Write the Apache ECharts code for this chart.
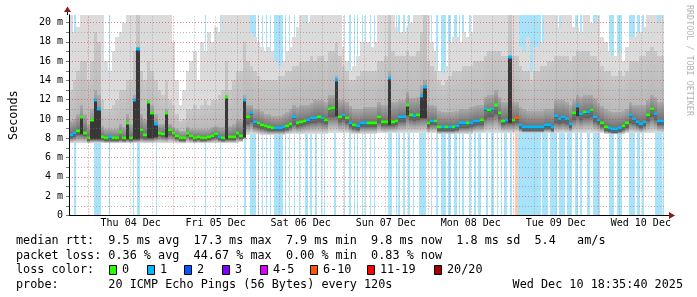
<!DOCTYPE html>
<html><head><meta charset="utf-8">
<script src="https://cdn.jsdelivr.net/npm/echarts@6/dist/echarts.min.js"></script>
<style>html,body{margin:0;padding:0;background:#fff}#c{width:697px;height:297px}</style>
</head><body><div id="c"></div>
<script>
// hours since Wed 03 Dec 00:00; window starts Wed 03 Dec 18:36
const startHour = 18.6;
const endHour = 186.6;
const dayLabels = ['Thu 04 Dec','Fri 05 Dec','Sat 06 Dec','Sun 07 Dec','Mon 08 Dec','Tue 09 Dec','Wed 10 Dec'];
const dayNoons = [36, 60, 84, 108, 132, 156, 180];
const midnights = [24, 48, 72, 96, 120, 144, 168];
const sixHourLines = [30,36,42,54,60,66,78,84,90,102,108,114,126,132,138,150,156,162,174,180,186];

// hourly median rtt (ms)
const med = [
 8.3,8.5,8.8,10.2,8.6, 8.0,9.9,12.0,11.0,8.1, 8.0,8.1,8.0,8.0,8.7, 8.0,9.6,8.0,12.0,17.3,
 8.9,8.3,11.8,10.6,9.5, 8.6,8.4,10.6,8.9,8.6, 8.2,8.0,8.0,8.6,8.2, 8.0,8.1,8.0,8.0,8.1,
 8.2,8.4,8.1,8.0,12.3, 8.1,8.1,8.6,8.2,12.0, 10.2,10.6,9.7,9.6,9.4, 9.3,9.2,9.1,9.1,9.1,
 9.15,9.3,9.5,10.2,9.6, 9.7,9.8,9.9,10.1,10.1, 10.2,10.1,9.9,11.0,11.1, 14.0,10.2,10.4,10.1,9.6,
 9.4,9.3,9.6,9.6,9.6, 9.6,9.55,10.2,9.7,9.7, 14.3,9.7,9.8,10.2,10.2, 11.5,10.4,10.3,10.4,12.4,
 13.3,9.6,9.8,9.8,9.2, 9.15,9.15,9.2,9.2,9.3, 9.55,9.55,9.55,9.6,9.8, 9.8,9.9,11.0,10.9,11.0,
 11.5,10.6,9.8,9.9,16.4, 9.9,10.1,9.4,9.2,9.15, 9.15,9.15,9.2,9.2,9.4, 9.35,9.2,10.3,10.0,10.2,
 10.0,9.5,10.6,11.3,10.5, 10.7,10.7,10.9,10.2,9.9, 9.55,9.2,9.1,9.0,9.0, 9.05,9.3,9.55,10.4,9.95,
 9.7,9.5,9.65,10.4,11.0, 10.5,9.8,9.8
];
// lowest ping of each hour (ms)
const smokeLo = [
 7.55,7.55,7.55,7.55,7.55, 7.55,7.55,7.55,7.55,7.55, 7.55,7.55,7.55,7.55,7.55, 7.55,7.55,7.55,7.55,7.55,
 7.55,7.55,7.55,7.55,7.55, 7.55,7.55,7.55,7.55,7.55, 7.55,7.55,7.55,7.55,7.55, 7.55,7.55,7.55,7.55,7.55,
 7.55,7.55,7.55,7.55,7.55, 7.55,7.55,7.55,7.6,7.9, 8.3,8.4,8.4,8.4,8.35, 8.35,8.35,8.35,8.35,8.35,
 8.35,8.4,8.4,8.4,8.4, 8.45,8.45,8.45,8.45,8.45, 8.45,8.45,8.45,8.5,8.5, 8.5,8.5,8.5,8.5,8.45,
 8.45,8.45,8.45,8.45,8.45, 8.45,8.45,8.5,8.5,8.5, 8.5,8.5,8.5,8.5,8.5, 8.5,8.5,8.5,8.5,8.5,
 8.5,8.5,8.5,8.5,8.45, 8.45,8.45,8.45,8.45,8.45, 8.45,8.45,8.45,8.45,8.5, 8.5,8.5,8.5,8.5,8.5,
 8.5,8.5,8.5,8.5,8.5, 8.5,8.55,8.55,8.55,8.55, 8.55,8.55,8.55,8.55,8.55, 8.55,8.55,8.6,8.6,8.6,
 8.6,8.6,8.6,8.6,8.6, 8.6,8.6,8.6,8.6,8.55, 8.5,8.45,8.45,8.45,8.45, 8.45,8.45,8.5,8.5,8.5,
 8.5,8.5,8.5,8.55,8.6, 8.6,8.55,8.55
];
// lower edge of the dense core (ms)
const smokeP25 = [
 8.0,8.1,8.3,8.3,8.2, 7.75,7.8,7.8,7.8,7.8, 7.75,7.75,7.75,7.75,7.8, 7.75,7.8,7.75,7.8,7.8,
 8.0,7.95,7.9,7.9,8.0, 8.2,8.1,8.0,8.3,8.2, 7.9,7.75,7.75,8.2,7.9, 7.75,7.8,7.75,7.75,7.8,
 7.9,8.0,7.8,7.75,7.8, 7.8,7.8,8.1,7.9,8.0, 9.5,9.7,9.2,9.1,9.0, 8.9,8.8,8.75,8.75,8.75,
 8.8,8.9,9.1,9.4,9.2, 9.3,9.4,9.5,9.6,9.6, 9.7,9.6,9.5,10.2,10.2, 10.2,9.7,9.9,9.6,9.2,
 9.0,8.9,9.2,9.2,9.2, 9.2,9.15,9.6,9.3,9.3, 9.3,9.3,9.4,9.7,9.7, 10.3,9.9,9.8,9.9,10.0,
 10.0,9.2,9.4,9.4,8.8, 8.75,8.75,8.8,8.8,8.9, 9.1,9.1,9.1,9.2,9.3, 9.4,9.4,10.0,10.2,10.2,
 10.5,10.0,9.4,9.5,9.5, 9.5,9.6,9.0,8.8,8.75, 8.75,8.75,8.8,8.8,9.0, 8.95,8.8,9.6,9.5,9.6,
 9.5,9.1,9.9,10.2,9.9, 10.1,10.1,10.2,9.7,9.5, 9.15,8.8,8.7,8.6,8.6, 8.65,8.9,9.1,9.6,9.5,
 9.3,9.1,9.25,9.8,10.2, 9.9,9.4,9.4
];
// upper edge of the dark smoke (ms)
const smokeP75 = [
 9.8,10.0,10.5,11.5,10.5, 9.5,11.0,13.0,12.5,9.3, 9.0,9.0,9.0,9.0,9.5, 9.2,10.5,9.5,12.5,17.5,
 10.5,10.0,12.0,11.5,10.5, 9.5,9.5,11.0,9.5,9.2, 9.0,8.8,8.8,9.2,9.0, 9.0,9.0,9.0,9.0,9.0,
 9.2,9.3,9.2,9.2,12.5, 9.3,9.5,10.0,10.0,12.5, 11.5,11.5,11.0,11.0,10.8, 10.5,10.5,10.3,10.3,10.3,
 10.5,10.7,11.0,11.5,11.2, 11.5,11.5,11.5,11.7,12.0, 12.0,12.0,11.8,12.5,12.5, 14.5,12.0,12.0,11.8,11.3,
 11.0,11.0,11.0,11.2,11.2, 11.2,11.2,11.8,11.5,11.5, 15.0,11.8,11.8,12.0,12.0, 12.8,12.2,12.2,12.3,13.5,
 14.0,11.5,11.5,11.3,10.8, 10.7,10.7,10.7,10.7,10.8, 11.0,11.0,11.0,11.2,11.3, 11.5,11.5,12.3,12.5,12.5,
 13.0,12.3,11.8,11.8,16.5, 11.8,11.8,11.2,11.0,10.8, 10.8,10.8,10.8,10.8,11.0, 11.0,11.0,12.0,12.0,12.0,
 11.8,11.5,12.0,12.5,12.3, 12.5,12.5,12.5,12.2,11.7, 11.3,11.0,10.8,10.7,10.7, 10.7,10.8,11.0,11.8,11.5,
 11.5,11.5,11.5,12.0,12.5, 12.3,11.8,11.8
];
// upper edge of the mid smoke (ms)
const smokeP90 = [
 13,14,15,16,16, 14,16,19,18,12, 11,11,11.5,12,13, 13,14,14,17,20.8,
 15,14,16,15,14, 13,12.5,14,12,11.5, 10.5,9.8,10,11,11, 11.5,11,11.5,12,11.5,
 12,12,12.5,13,16, 13,14,15,15,18, 16,15.5,15,14.5,14, 14,14,14,14,14.5,
 14.5,15,15,15.5,15.5, 16,16,16,16.5,16, 16.5,16.5,16,17,17, 18,16.5,15.5,15,14,
 14,14.5,15,15,15, 15,15,16,16,16.5, 20.8,17,16.5,16.5,16.5, 17,16.5,16.5,17,19,
 20.8,16,15.5,15,14, 13.5,14,14.5,15,15, 15,15.5,15.5,15.5,16, 16,16,16.5,17,17,
 17,17,16.5,16.5,20.8, 16.5,16.5,15.5,15,15, 14,15,15,15.5,15.5, 16,16,16.5,16.5,16.5,
 16.5,16,16.5,17,17, 17,17,16.5,16.5,16, 15.5,15,15,14.5,14.5, 15,14.5,15,16,16,
 16,16.5,16.5,17,17.5, 17,16.5,16.5
];
// highest ping of each hour (ms, clipped at the top of the graph)
const smokeMax = [
 20.8,19,19.5,20.8,20.8, 20.8,20.8,20.8,20.8,20.8, 16,15,17,18.5,19, 20,20.8,20.8,20.8,20.8,
 20.8,20.8,20.8,20.8,20.8, 20.8,20.8,20.8,20.8,18, 14,11.5,13,15,16, 17,14,18,17,19,
 18,19.5,19,20.8,20.8, 20.8,20.8,20.8,20.8,20.8, 20.8,19,18.5,18,17.5, 17,17.5,17,16,15.5,
 16,17,17.5,18.5,19.5, 20.8,20.8,20,20.8,20.8, 20.8,20.8,20.8,20.8,20.8, 20.8,20.8,17.5,16,15,
 15.5,16.5,18,18,18, 17.5,18,20.8,20.8,20.8, 20.8,20.8,19.5,19,19, 19.5,20,20.8,20.8,20.8,
 20.8,20.8,18,17,15, 14.8,15.5,18,18.5,18.5, 18,19,18.5,19,20.8, 20.8,20.8,20.8,20.8,20.8,
 20.8,20.8,20.8,20.8,20.8, 20.8,20.8,17.5,17,18.5, 15,17.5,17.5,18,20.8, 20.8,20.8,20.8,19.5,20.8,
 20.8,20.8,19.5,19.5,19, 20.8,20.8,20,20,20.8, 18.5,18,17,16.5,16.5, 17,16,17.5,18.5,18.5,
 19,19,19.5,20.8,20.8, 20.8,20,20.8
];
// loss periods: [from, to] in hours after window start, lost pings
const lossSpans = [
 [0,0.4,1],[1.4,1.9,1],[6.95,9.0,1],[11.2,11.5,1],[18.0,18.4,1],[19.2,19.9,1],[24.5,24.8,1],[38.5,38.8,1],[42.6,43.0,1],
 [49.3,50.1,1],[51.0,52.7,1],[53.4,53.6,1],[54.5,54.8,1],[55.5,55.7,1],[56.6,56.9,1],[58.0,60.4,1],[60.85,61.1,1],[62.1,62.4,1],[63.4,63.8,1],
 [64.8,65.3,1],[66.7,67.4,1],[68.1,68.6,1],[69.5,70.0,1],[71.0,71.4,1],[71.9,72.3,1],[74.9,75.4,1],[77.6,77.9,1],[79.1,79.6,1],[80.4,80.7,1],
 [81.3,81.7,1],[82.6,83.0,1],[83.5,83.9,1],[84.9,85.2,1],[86.2,86.5,1],[89.9,91.3,1],[92.3,92.5,1],[93.0,93.5,1],[94.3,94.7,1],[95.8,96.3,1],
 [97.1,97.5,1],[98.8,100.7,1],[102.1,102.4,1],[103.7,104.1,1],[104.9,106.3,1],[107.0,107.7,1],[108.7,109.4,1],[110.1,110.5,1],[111.0,111.5,1],
 [112.9,113.4,1],[114.3,114.8,1],[115.5,116.2,1],[117.6,118.3,1],[119.2,119.9,1],[120.7,121.0,1],[121.8,122.3,1],[122.9,123.5,1],[124.4,125.1,1],
 [126.0,126.8,6],[126.8,133.1,1],[133.5,135.2,1],[135.7,137.7,1],[138.2,140.1,1],[140.6,142.0,1],[142.9,143.8,1],[144.3,144.8,1],[146.2,147.1,1],
 [147.8,150.0,1],[152.3,153.7,1],[154.6,156.0,1],[158.2,159.8,1],[160.3,161.2,1],[161.7,162.4,1],[165.4,167.3,1],[167.7,168.0,1]
];
const lossLegend = ['0','1','2','3','4-5','6-10','11-19','20/20'];
const statsRtt = 'median rtt:  9.5 ms avg  17.3 ms max  7.9 ms min  9.8 ms now  1.8 ms sd  5.4   am/s';
const statsLoss = 'packet loss: 0.36 % avg  44.67 % max  0.00 % min  0.83 % now';
const probeText = 'probe:       20 ICMP Echo Pings (56 Bytes) every 120s';
const stampText = 'Wed Dec 10 18:35:40 2025';

const lossColors = ['#26ff00','#00b8ff','#0059ff','#7e00ff','#dd00ff','#ff5500','#ff0000','#a10000'];
function lossClass(n){ if(n<=3) return n; if(n<=5) return 4; if(n<=10) return 5; if(n<=19) return 6; return 7; }
const barColors = {1:'#a8e3fa', 5:'#ffcab2'};
function lossAt(i){
  let lv=0;
  for(const s of lossSpans){
    const ov = Math.min(s[1], i+1) - Math.max(s[0], i);
    if(ov >= 0.3) lv=Math.max(lv,s[2]);
  }
  return lv;
}

const MONO = '"DejaVu Sans Mono", monospace';
const YMAX = 20.8;

function rectV(api, xs, xe, v0, v1, style){
  const a = api.coord([xs, v1]), b = api.coord([xe, v0]);
  const x = Math.round(a[0]), x2 = Math.round(b[0]);
  const y = Math.round(a[1]), y2 = Math.round(b[1]);
  return {type:'rect', shape:{x:x, y:y, width:Math.max(1,x2-x), height:Math.max(0,y2-y)}, style:style};
}
function vgrad(topC, botC){ return {type:'linear',x:0,y:0,x2:0,y2:1,colorStops:[{offset:0,color:topC},{offset:1,color:botC}]}; }

const smokeData = med.map((m,i)=>[startHour+i, startHour+i+1, smokeLo[i], smokeP25[i], m, smokeP75[i], smokeP90[i], smokeMax[i]]);
const medData = med.map((m,i)=>[startHour+i, startHour+i+1, m, lossAt(i)]);
const lossData = lossSpans.map(s=>[startHour+s[0], startHour+s[1], s[2]]);

const chart = echarts.init(document.getElementById('c'), null, {renderer:'canvas'});

const graphic = [];
const rowY = [241, 255.5, 270, 284.5];
function txt(x, y, s, align){ graphic.push({type:'text', x:x, y:y, silent:true, style:{text:s, fill:'#000', font:'11.8px '+MONO, textAlign:align||'left', textVerticalAlign:'middle'}}); }
txt(16, rowY[0], statsRtt);
txt(16, rowY[1], statsLoss);
txt(16, rowY[2], 'loss color:');
txt(16, rowY[3], probeText);
txt(683, rowY[3], stampText, 'right');
const swX = [109,147,184,222,260,310,367,434];
lossLegend.forEach((lab,k)=>{
  graphic.push({type:'rect', silent:true, shape:{x:swX[k]+0.5, y:rowY[2]-4.5, width:7, height:9}, style:{fill:lossColors[k], stroke:'#000', lineWidth:1}});
  txt(swX[k]+13, rowY[2], lab);
});
graphic.push({type:'text', x:689, y:5, rotation:-Math.PI/2, silent:true, style:{text:'RRDTOOL / TOBI OETIKER', fill:'#b4b4b4', font:'8.4px '+MONO, textAlign:'left', textVerticalAlign:'middle'}});
// axis arrows
graphic.push({type:'line', silent:true, shape:{x1:67.5,y1:10,x2:67.5,y2:15}, style:{stroke:'#000',lineWidth:1}});
graphic.push({type:'polygon', silent:true, shape:{points:[[67.5,6.5],[64,12],[71,12]]}, style:{fill:'#8b1a1a'}});
graphic.push({type:'line', silent:true, shape:{x1:664,y1:215.5,x2:670,y2:215.5}, style:{stroke:'#000',lineWidth:1}});
graphic.push({type:'polygon', silent:true, shape:{points:[[675,215.5],[669,212],[669,219]]}, style:{fill:'#8b1a1a'}});

const vLines = [];
sixHourLines.forEach(v=>vLines.push({xAxis:v, lineStyle:{color:'rgba(120,120,120,0.5)', type:[1,2], width:1}}));
midnights.forEach(v=>vLines.push({xAxis:v, lineStyle:{color:'rgba(230,50,50,0.6)', type:[1,2], width:1}}));

const option = {
  animation:false,
  backgroundColor:'#fff',
  grid:{left:67, top:14.8, right:697-67-597.2, bottom:81.5, containLabel:false},
  xAxis:{type:'value', min:startHour, max:endHour, z:6,
    axisLine:{show:true, lineStyle:{color:'#000', width:1}},
    axisTick:{show:false}, splitLine:{show:false},
    axisLabel:{customValues:dayNoons, margin:3, color:'#000', fontFamily:MONO, fontSize:10,
      formatter:(v)=>dayLabels[Math.round((v-36)/24)] || ''}},
  yAxis:{type:'value', min:0, max:YMAX, interval:1, z:6,
    name:'Seconds', nameLocation:'middle', nameRotate:90, nameGap:49,
    nameTextStyle:{color:'#000', fontFamily:MONO, fontSize:11.8},
    axisLine:{show:true, lineStyle:{color:'#000', width:1}},
    axisTick:{show:true, length:3, lineStyle:{color:'#777'}},
    axisLabel:{margin:6, color:'#000', fontFamily:MONO, fontSize:10, showMaxLabel:false,
      formatter:(v)=> (Math.round(v)%2!==0 || v>20) ? '' : (v===0 ? '0' : v+' m')},
    splitLine:{show:true, showMaxLine:false, lineStyle:{color:['rgba(230,50,50,0.6)','rgba(120,120,120,0.5)'], type:[1,2], width:1}}},
  graphic:graphic,
  series:[
    {type:'custom', name:'loss', z:1, silent:true, data:lossData,
     renderItem:(p,api)=>{
       const lv = api.value(2);
       return rectV(api, api.value(0), api.value(1), 0, YMAX, {fill: barColors[lossClass(lv)>=5?5:1]});
     }},
    {type:'custom', name:'smoke', z:2, silent:true, data:smokeData,
     renderItem:(p,api)=>{
       const xs=api.value(0), xe=api.value(1);
       const lo=api.value(2), q=api.value(3), m=api.value(4), p75=api.value(5), p90=api.value(6), mx=api.value(7);
       const coreFrom = (m - q > 1.0) ? q + 0.1 : m - 0.2;
       return {type:'group', children:[
         rectV(api,xs,xe,q,mx,{fill:'#dbdbdb'}),
         rectV(api,xs,xe,q,p90,{fill:vgrad('#c8c8c8','#b2b2b2')}),
         rectV(api,xs,xe,q,p75,{fill:vgrad('#ababab','#606060')}),
         rectV(api,xs,xe,lo,q,{fill:{type:'linear',x:0,y:0,x2:0,y2:1,colorStops:[{offset:0,color:'#727272'},{offset:0.5,color:'#aaaaaa'},{offset:1,color:'#e0e0e0'}]}}),
         rectV(api,xs,xe,coreFrom,m+0.1,{fill:'#383838'})
       ]};
     }},
    {type:'custom', name:'median', z:3, silent:true, data:medData,
     renderItem:(p,api)=>{
       const a=api.coord([api.value(0), api.value(2)]), b=api.coord([api.value(1), api.value(2)]);
       const x=Math.round(a[0]), x2=Math.round(b[0]);
       return {type:'rect', shape:{x:x, y:Math.round(a[1])-1.5, width:Math.max(1,x2-x), height:3}, style:{fill:lossColors[lossClass(api.value(3))]}};
     }},
    {type:'line', name:'grid', z:5, silent:true, data:[], symbol:'none',
     markLine:{silent:true, symbol:['none','none'], label:{show:false}, animation:false, data:vLines}}
  ]
};
chart.setOption(option);
</script>
</body></html>
